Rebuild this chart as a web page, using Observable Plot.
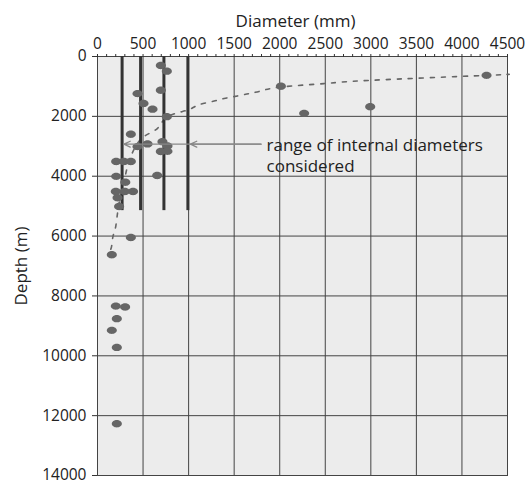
<!DOCTYPE html>
<html>
<head>
<meta charset="utf-8">
<script src="https://cdn.jsdelivr.net/npm/d3@7"></script>
<script src="https://cdn.jsdelivr.net/npm/@observablehq/plot@0.6"></script>
<style>
  html, body { margin: 0; padding: 0; background: #fff; }
  svg { overflow: visible; }
</style>
</head>
<body>
<div id="chart"></div>
<script>
// Observed wells: internal diameter (mm) and depth (m)
const diameters = [695, 761, 695, 439, 505, 604, 761, 366, 439, 549, 713, 768, 695, 768,
  205, 290, 366, 205, 305, 655, 201, 300, 390, 220, 237, 366, 157, 201, 303, 212, 157, 212, 212,
  2013, 2268, 2993, 4270];
const depths = [300, 490, 1130, 1240, 1570, 1760, 2010, 2600, 3010, 2920, 2850, 2990, 3175, 3170,
  3510, 3510, 3510, 4005, 4200, 3975, 4510, 4510, 4510, 4720, 5010, 6050, 6625, 8340, 8370, 8760, 9150, 9720, 12270,
  995, 1900, 1680, 630];

// Dotted trend curve
const curveDiameters = [4495, 4270, 3000, 2484, 2013, 1793, 1664, 1537, 1390, 1244, 1098, 988, 768, 659, 508, 398, 329, 289, 234, 201, 171, 157, 146];
const curveDepths = [597, 630, 796, 906, 1019, 1151, 1238, 1317, 1404, 1516, 1626, 1792, 2014, 2399, 2678, 3119, 3673, 4214, 4944, 5664, 5996, 6304, 6437];

// Range of internal diameters considered
const rangeDiameters = [270, 473, 729, 992];
const rangeTopDepth = 0;
const rangeBottomDepth = 5150;

// Annotation
const annotationText = "range of internal diameters\nconsidered";
const annotationX = 1855;
const annotationY = 2650;
const arrowFromX = [1795, 1795];
const arrowToX = [290, 1020];
const arrowDepth = 2930;

// Axes
const xTicks = d3.range(0, 4501, 500);
const xMinorTicks = d3.range(0, 4501, 100);
const yTicks = d3.range(0, 14001, 2000);
const xLabel = "Diameter (mm)";
const yLabel = "Depth (m)";

const points = diameters.map((d, i) => ({diameter: d, depth: depths[i]}));
const curve = curveDiameters.map((d, i) => ({diameter: d, depth: curveDepths[i]}));
const arrows = arrowFromX.map((d, i) => ({x1: d, x2: arrowToX[i], y: arrowDepth}));

const ellipse = {
  draw(ctx, size) {
    const r = Math.sqrt(size / Math.PI);
    const rx = r * 1.2, ry = r * 0.88, k = 0.5523;
    ctx.moveTo(rx, 0);
    ctx.bezierCurveTo(rx, ry * k, rx * k, ry, 0, ry);
    ctx.bezierCurveTo(-rx * k, ry, -rx, ry * k, -rx, 0);
    ctx.bezierCurveTo(-rx, -ry * k, -rx * k, -ry, 0, -ry);
    ctx.bezierCurveTo(rx * k, -ry, rx, -ry * k, rx, 0);
    ctx.closePath();
  }
};

const chart = Plot.plot({
  width: 528,
  height: 484,
  marginTop: 56,
  marginLeft: 97,
  marginRight: 21,
  marginBottom: 9,
  style: {fontFamily: "'Open Sans', sans-serif", fontSize: "16px", color: "#222", background: "white", overflow: "visible"},
  x: {domain: [0, 4500]},
  y: {domain: [0, 14000], reverse: true},
  marks: [
    Plot.frame({fill: "#ececec"}),
    Plot.gridX({ticks: xTicks, stroke: "#444", strokeOpacity: 1}),
    Plot.gridY({ticks: yTicks, stroke: "#444", strokeOpacity: 1}),
    Plot.frame({stroke: "#444"}),
    Plot.axisX({anchor: "top", ticks: xMinorTicks, tickSize: 3, tickFormat: () => "", label: null, stroke: "#333"}),
    Plot.axisX({anchor: "top", ticks: xTicks, tickSize: 0, tickPadding: 8, tickFormat: d => String(d), fontSize: 15.5, label: null}),
    Plot.axisY({anchor: "left", ticks: yTicks, tickSize: 5, tickPadding: 6, tickFormat: d => String(d), fontSize: 15.5, stroke: "#333", label: null}),
    Plot.text([xLabel], {frameAnchor: "top", text: d => d, dx: -7, dy: -35, textAnchor: "middle", lineAnchor: "middle", fontSize: 17, fill: "#222"}),
    Plot.text([yLabel], {frameAnchor: "left", text: d => d, dx: -76, rotate: -90, textAnchor: "middle", lineAnchor: "middle", fontSize: 17, fill: "#222"}),
    Plot.line(curve, {x: "diameter", y: "depth", stroke: "#666", strokeWidth: 1.6, strokeDasharray: "4,7", curve: "natural"}),
    Plot.ruleX(rangeDiameters, {x: d => d, y1: rangeTopDepth, y2: rangeBottomDepth, stroke: "#333", strokeWidth: 3}),
    Plot.dot(points, {x: "diameter", y: "depth", r: 4.2, symbol: ellipse, fill: "#666", stroke: "none"}),
    Plot.arrow(arrows, {x1: "x1", x2: "x2", y1: "y", y2: "y", stroke: "#888", strokeWidth: 1.3, headLength: 8, headAngle: 50}),
    Plot.text([annotationText], {x: annotationX, y: annotationY, text: d => d, textAnchor: "start", lineAnchor: "top",
      lineHeight: 1.25, fontSize: 17, fill: "#222"})
  ]
});
document.getElementById("chart").appendChild(chart);
</script>
</body>
</html>
